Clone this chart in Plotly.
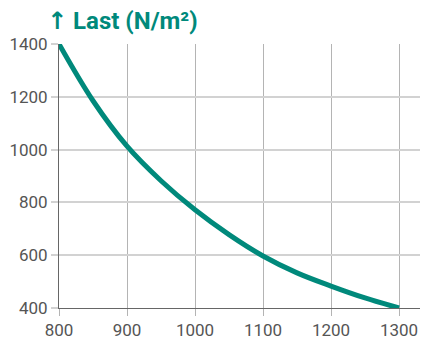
import plotly.graph_objects as go

span_x = [800, 850, 900, 950, 1000, 1050, 1100, 1150, 1200, 1250, 1300]
load = [1400, 1185, 1013, 882, 772, 678, 597, 533, 483, 438, 400]

x_ticks = [800, 900, 1000, 1100, 1200, 1300]
y_ticks = [400, 600, 800, 1000, 1200, 1400]
title_arrow = "↑"
title_text = "Last (N/m²)"

TEAL = "#00897b"

# page body has an 8px margin -> figure occupies 420x331 from (8,8)
W, H = 420, 331
L, T, B = 51, 36, 31

fig = go.Figure()
fig.add_trace(go.Scatter(
    x=span_x, y=load, mode="lines",
    line=dict(color=TEAL, width=5, shape="spline", smoothing=1.0),
    cliponaxis=False, hoverinfo="skip", showlegend=False,
))

fig.update_layout(
    width=W, height=H,
    margin=dict(l=L, r=0, t=T, b=B),
    paper_bgcolor="white", plot_bgcolor="white",
    font=dict(family="Roboto", size=17, color="#555555"),
    title=dict(text="<b><span style='font-family:DejaVu Sans'>" + title_arrow
                    + "</span> " + title_text + "</b>",
               x=39/W, xanchor="left",
               xref="container", y=1 - 4/H, yref="container", yanchor="top",
               font=dict(family="Roboto", size=24, color=TEAL)),
    xaxis=dict(range=[800, 800 + (W - L)/68*100], tickvals=x_ticks,
               showgrid=True, gridcolor="#b4b4b4", gridwidth=1,
               showline=True, linecolor="#666666", linewidth=1,
               ticks="outside", ticklen=7, tickcolor="#b4b4b4", tickwidth=1,
               zeroline=False, fixedrange=True),
    yaxis=dict(range=[400, 1400], tickvals=y_ticks,
               showgrid=True, gridcolor="#d2d2d2", gridwidth=1.5,
               showline=True, linecolor="#666666", linewidth=1,
               ticks="outside", ticklen=7, tickcolor="#d2d2d2", tickwidth=1.5,
               zeroline=False, fixedrange=True),
)

fig.write_html("out.html")
